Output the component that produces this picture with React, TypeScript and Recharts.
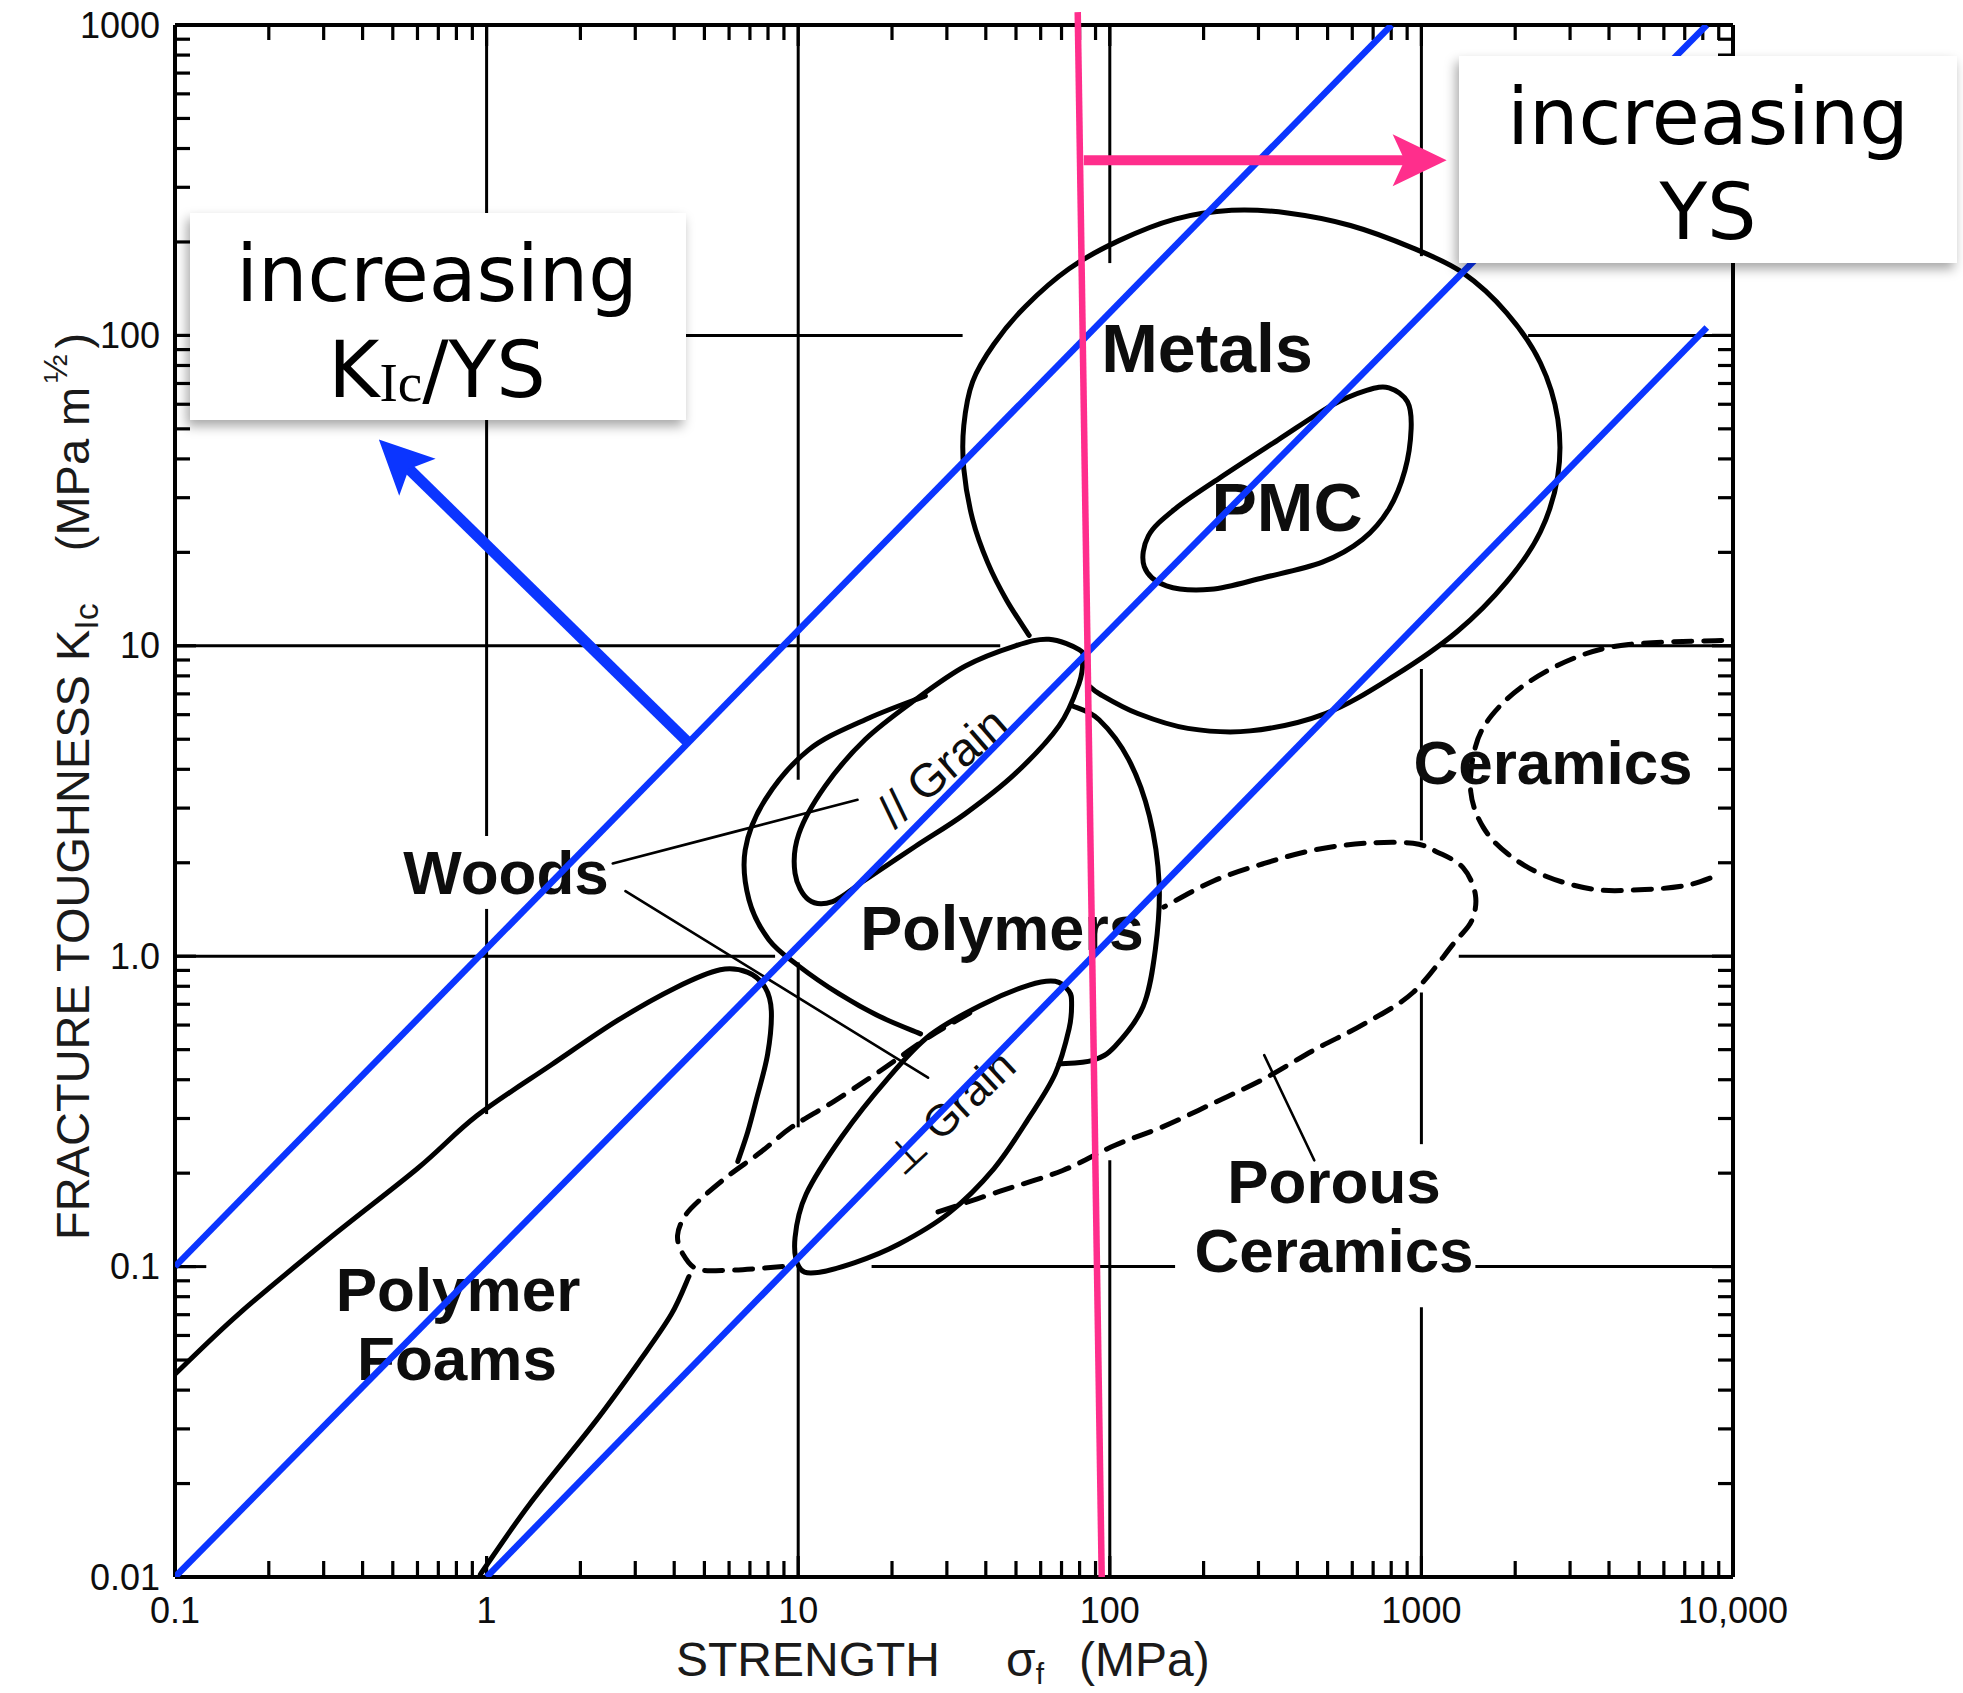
import React from 'react';
import { ComposedChart, Line, XAxis, YAxis, ReferenceLine } from 'recharts';

const W = 1963;
const H = 1693;

// ---------- axis values ----------
const xDecades = [0.1, 1, 10, 100, 1000, 10000];
const xTickLabels = ['0.1', '1', '10', '100', '1000', '10,000'];
const yDecades = [0.01, 0.1, 1, 10, 100, 1000];
const yTickLabels = ['0.01', '0.1', '1.0', '10', '100', '1000'];
const minorSteps = [2, 3, 4, 5, 6, 7, 8, 9];

// ---------- material envelopes: [strength MPa, toughness MPa m^1/2] ----------
const metals: [number, number][] = [
  [55.1, 10.8], [46.7, 14.0], [40.6, 18.5], [36.3, 25.5], [34.0, 37.1], [34.0, 51.3], [36.3, 71.0],
  [42.5, 93.8], [53.6, 124], [74.0, 164], [107, 202], [162, 237], [246, 253], [372, 248], [592, 226],
  [940, 191], [1360, 159], [1880, 118], [2410, 81.5], [2740, 53.7], [2740, 35.3], [2410, 23.3],
  [1880, 16.1], [1300, 11.1], [818, 8.0], [492, 6.05], [282, 5.32], [178, 5.42], [123, 6.05],
  [93.3, 6.97], [84.9, 7.5],
];
const pmc: [number, number][] = [
  [787, 67.8], [902, 61.1], [927, 50.1], [885, 36.7], [787, 27.6], [647, 22.0], [481, 18.6],
  [313, 16.6], [211, 15.2], [152, 15.6], [129, 18.0], [133, 22.6], [162, 27.6], [225, 34.7],
  [346, 46.0], [514, 59.4], [667, 66.5],
];
const woodsParallel: [number, number][] = [
  [79.7, 9.72], [63.8, 10.5], [49.8, 10.0], [34.4, 8.61], [23.8, 6.71], [16.4, 4.99], [12.2, 3.53],
  [10.05, 2.48], [9.77, 1.85], [10.8, 1.52], [12.9, 1.50], [16.4, 1.76], [23.8, 2.26], [34.4, 2.88],
  [49.8, 3.88], [68.7, 5.52], [79.7, 7.57], [81.9, 9.03],
];
const polymersLeft: [number, number][] = [
  [25.6, 6.90], [16.4, 5.78], [10.8, 4.62], [7.83, 3.19], [6.76, 2.20], [6.95, 1.52], [8.05, 1.13],
  [10.05, 0.929], [13.5, 0.757], [18.2, 0.640], [24.7, 0.562],
];
const polymersRight: [number, number][] = [
  [76.0, 6.40], [92.4, 5.78], [115, 4.30], [134, 2.83], [144, 1.71], [140, 1.05], [128, 0.690],
  [104, 0.513], [88.1, 0.462], [68.7, 0.450],
];
const woodsPerp: [number, number][] = [
  [74.0, 0.771], [66.8, 0.830], [55.1, 0.807], [39.5, 0.703], [26.5, 0.557], [19.2, 0.399],
  [13.8, 0.262], [10.6, 0.171], [9.77, 0.124], [10.05, 0.100], [11.3, 0.0955], [15.2, 0.103],
  [21.0, 0.118], [30.5, 0.149], [42.5, 0.207], [55.1, 0.302], [66.8, 0.418], [74.0, 0.583], [75.4, 0.703],
];
const foamUpper: [number, number][] = [
  [0.1, 0.045], [0.160, 0.0703], [0.309, 0.122], [0.600, 0.207], [0.930, 0.306], [1.61, 0.446],
  [2.64, 0.622], [4.06, 0.793], [5.62, 0.904], [6.89, 0.887], [7.83, 0.793], [8.20, 0.665],
  [7.98, 0.484], [7.35, 0.347], [6.89, 0.272], [6.40, 0.218],
];
const foamLower: [number, number][] = [
  [0.955, 0.0102], [1.37, 0.0171], [2.23, 0.0316], [3.11, 0.0499], [3.92, 0.0703], [4.46, 0.0929],
];
const dashedLoop: [number, number][] = [
  [8.91, 0.100], [6.00, 0.0973], [4.75, 0.0982], [4.26, 0.110], [4.10, 0.126], [4.34, 0.146],
  [4.93, 0.167], [6.00, 0.197], [7.55, 0.233], [9.51, 0.281], [12.8, 0.337], [18.0, 0.422],
  [26.5, 0.552], [37.0, 0.671],
];
const porousCeramics: [number, number][] = [
  [28.1, 0.150], [44.5, 0.175], [70.6, 0.204], [104, 0.246], [149, 0.283], [216, 0.337], [313, 0.403],
  [453, 0.499], [655, 0.605], [940, 0.764], [1270, 1.10], [1450, 1.30], [1490, 1.58], [1360, 1.93],
  [1130, 2.16], [940, 2.31], [655, 2.31], [453, 2.20], [313, 1.99], [216, 1.75], [149, 1.44],
];
const ceramics: [number, number][] = [
  [9200, 10.4], [4620, 10.1], [3100, 9.14], [2150, 7.50], [1680, 5.96], [1490, 4.72], [1440, 3.39],
  [1580, 2.60], [1900, 2.13], [2510, 1.81], [3610, 1.64], [5210, 1.64], [7080, 1.69], [8770, 1.81],
];
const leaderWoodsParallel: [number, number][] = [[2.54, 1.99], [15.5, 3.19]];
const leaderWoodsPerp: [number, number][] = [[2.79, 1.62], [26.1, 0.406]];
const leaderPorous: [number, number][] = [[313, 0.480], [453, 0.220]];

// ---------- grid (decade lines, interrupted where the original chart is) ----------
const gridK: [number, number, number][] = [ // K, from sigma, to sigma
  [100, 0.1, 33.7], [100, 2200, 10000],
  [10, 0.1, 44.5], [10, 1130, 10000],
  [1, 0.1, 8.43], [1, 1318, 10000],
  [0.1, 0.1, 0.126], [0.1, 17.2, 162], [0.1, 1490, 10000],
];
const gridS: [number, number, number][] = [ // sigma, from K, to K
  [1, 1000, 2.44], [1, 1.42, 0.31],
  [10, 1000, 3.70], [10, 0.955, 0.281], [10, 0.1, 0.01],
  [100, 1000, 171], [100, 0.22, 0.01],
  [1000, 1000, 180], [1000, 8.42, 2.36], [1000, 0.764, 0.248], [1000, 0.074, 0.01],
];

// ---------- overlays ----------
const ratioLines: [number, number][][] = [
  [[0.1, 0.1], [802, 1000]],
  [[0.1, 0.01], [8240, 1000]],
  [[1, 0.01], [8240, 106]],
];
const ratioArrow: [number, number][] = [[4.38, 4.94], [0.451, 46.2]];
const ysLine: [number, number][] = [[78.9, 1100], [94.2, 0.01]];
const ysArrow: [number, number][] = [[82.5, 367], [1205, 367]];

// ---------- styles / layout ----------
const X_DOMAIN: [number, number] = [0.1, 10000];
const Y_DOMAIN: [number, number] = [0.01, 1000];
const BLUE = '#0b35ff';
const PINK = '#ff2e8c';
const INK = '#0d0d0d';
const FONT = '"Liberation Sans", Arial, Helvetica, "DejaVu Sans", sans-serif';
const AXIS_LINE = { stroke: '#000', strokeWidth: 4 };

const regionLabels = [
  { text: 'Metals', x: 1207, y: 372, size: 68 },
  { text: 'PMC', x: 1287, y: 531, size: 68 },
  { text: 'Polymers', x: 1002, y: 950, size: 63 },
  { text: 'Woods', x: 506, y: 894, size: 62 },
  { text: 'Ceramics', x: 1553, y: 784, size: 62 },
  { text: 'Polymer', x: 458, y: 1311, size: 62 },
  { text: 'Foams', x: 457, y: 1380, size: 62 },
  { text: 'Porous', x: 1334, y: 1203, size: 62 },
  { text: 'Ceramics', x: 1334, y: 1272, size: 62 },
];
const grainLabels = [
  { text: '// Grain', x: 942, y: 767, angle: -41, size: 47 },
  { text: '\u22A5 Grain', x: 950, y: 1112, angle: -43, size: 44 },
];

const toXY = (pts: [number, number][]) => pts.map(([x, y]) => ({ x, y }));

const xTicks = [...xDecades, ...xDecades.slice(0, -1).flatMap((d) => minorSteps.map((m) => d * m))].sort((a, b) => a - b);
const yTicks = [...yDecades, ...yDecades.slice(0, -1).flatMap((d) => minorSteps.map((m) => d * m))].sort((a, b) => a - b);

const decadeIndex = (list: number[], v: number) => list.findIndex((d) => Math.abs(v / d - 1) < 1e-6);

// Catmull-Rom curve factory (d3 curve interface) so that outlines pass through the traced points
function catmull(closed: boolean) {
  return (context: any) => {
    let pts: number[][] = [];
    return {
      areaStart() {},
      areaEnd() {},
      lineStart() { pts = []; },
      point(x: number, y: number) { pts.push([+x, +y]); },
      lineEnd() {
        const n = pts.length;
        if (!n) return;
        context.moveTo(pts[0][0], pts[0][1]);
        if (n < 2) return;
        const get = (i: number) => (closed ? pts[((i % n) + n) % n] : pts[Math.max(0, Math.min(n - 1, i))]);
        const segs = closed ? n : n - 1;
        for (let i = 0; i < segs; i++) {
          const p0 = get(i - 1), p1 = get(i), p2 = get(i + 1), p3 = get(i + 2);
          context.bezierCurveTo(
            p1[0] + (p2[0] - p0[0]) / 6, p1[1] + (p2[1] - p0[1]) / 6,
            p2[0] - (p3[0] - p1[0]) / 6, p2[1] - (p3[1] - p1[1]) / 6,
            p2[0], p2[1],
          );
        }
        if (closed) context.closePath();
      },
    };
  };
}
const closedCurve = catmull(true);
const openCurve = catmull(false);

// ---------- tick renderers ----------
const tickText = { fontFamily: FONT, fontSize: 36, fill: INK };

const BottomTick = (p: any) => {
  const v = p.payload.value;
  const i = decadeIndex(xDecades, v);
  return (
    <g>
      <line x1={p.x} x2={p.x} y1={p.y} y2={p.y - (i >= 0 ? 21 : 16)} stroke="#000" strokeWidth={3.2} />
      {i >= 0 && (
        <text x={p.x} y={p.y + 33} textAnchor="middle" dominantBaseline="central" {...tickText}>{xTickLabels[i]}</text>
      )}
    </g>
  );
};
const TopTick = (p: any) => {
  const i = decadeIndex(xDecades, p.payload.value);
  return <line x1={p.x} x2={p.x} y1={p.y} y2={p.y + (i >= 0 ? 21 : 15)} stroke="#000" strokeWidth={3.2} />;
};
const LeftTick = (p: any) => {
  const v = p.payload.value;
  const i = decadeIndex(yDecades, v);
  return (
    <g>
      <line x1={p.x} x2={p.x + (i >= 0 ? 21 : 15)} y1={p.y} y2={p.y} stroke="#000" strokeWidth={3.2} />
      {i >= 0 && (
        <text x={p.x - 15} y={p.y} textAnchor="end" dominantBaseline="central" {...tickText}>{yTickLabels[i]}</text>
      )}
    </g>
  );
};
const RightTick = (p: any) => {
  const i = decadeIndex(yDecades, p.payload.value);
  return <line x1={p.x} x2={p.x - (i >= 0 ? 21 : 15)} y1={p.y} y2={p.y} stroke="#000" strokeWidth={3.2} />;
};

// arrow drawn along a reference segment (end point = arrow tip)
const makeArrow = (color: string, shaft: number) => (p: any) => {
  const { x1, y1, x2, y2 } = p;
  if (![x1, y1, x2, y2].every((v: any) => Number.isFinite(v))) return <g />;
  const dx = x2 - x1, dy = y2 - y1;
  const L = Math.hypot(dx, dy) || 1;
  const ux = dx / L, uy = dy / L, nx = -uy, ny = ux;
  const HEAD = 54, HALF = 26, NOTCH = 42;
  const bx = x2 - ux * HEAD, by = y2 - uy * HEAD;
  const mx = x2 - ux * NOTCH, my = y2 - uy * NOTCH;
  return (
    <g>
      <line x1={x1} y1={y1} x2={mx + ux * 2} y2={my + uy * 2} stroke={color} strokeWidth={shaft} />
      <polygon points={`${x2},${y2} ${bx + nx * HALF},${by + ny * HALF} ${mx},${my} ${bx - nx * HALF},${by - ny * HALF}`} fill={color} />
    </g>
  );
};

const layer: React.CSSProperties = { position: 'absolute', left: 0, top: 0, width: W, height: H };

const hiddenAxes = [
  <XAxis key="x" xAxisId="b" type="number" dataKey="x" scale="log" domain={X_DOMAIN} allowDataOverflow hide />,
  <YAxis key="y" yAxisId="l" type="number" dataKey="y" scale="log" domain={Y_DOMAIN} allowDataOverflow hide />,
];
const overlayMargin = { top: 25, right: 230, bottom: 116, left: 175 };

const outline = (key: string, pts: [number, number][], closed: boolean, dashed = false, width = 5) => (
  <Line
    key={key}
    xAxisId="b"
    yAxisId="l"
    data={toXY(pts)}
    dataKey="y"
    type={closed ? (closedCurve as any) : (openCurve as any)}
    stroke="#000"
    strokeWidth={width}
    strokeLinecap="round"
    strokeDasharray={dashed ? '18 12' : undefined}
    dot={false}
    activeDot={false}
    isAnimationActive={false}
    legendType="none"
  />
);

export default function App() {
  return (
    <div style={{ ...layer, background: '#fff', overflow: 'hidden' }}>
      {/* base chart: frame, ticks, grid and material envelopes */}
      <div style={layer}>
        <ComposedChart width={W} height={H} margin={{ top: 24, right: 229, bottom: 56, left: 75 }}>
          <XAxis xAxisId="b" orientation="bottom" type="number" dataKey="x" scale="log" domain={X_DOMAIN} allowDataOverflow
            ticks={xTicks} interval={0} tickSize={0} tickMargin={0} tickLine={false} axisLine={AXIS_LINE} tick={BottomTick} height={60} />
          <XAxis xAxisId="t" orientation="top" type="number" dataKey="x" scale="log" domain={X_DOMAIN} allowDataOverflow
            ticks={xTicks} interval={0} tickSize={0} tickMargin={0} tickLine={false} axisLine={AXIS_LINE} tick={TopTick} height={1} />
          <YAxis yAxisId="l" orientation="left" type="number" dataKey="y" scale="log" domain={Y_DOMAIN} allowDataOverflow
            ticks={yTicks} interval={0} tickSize={0} tickMargin={0} tickLine={false} axisLine={AXIS_LINE} tick={LeftTick} width={100} />
          <YAxis yAxisId="r" orientation="right" type="number" dataKey="y" scale="log" domain={Y_DOMAIN} allowDataOverflow
            ticks={yTicks} interval={0} tickSize={0} tickMargin={0} tickLine={false} axisLine={AXIS_LINE} tick={RightTick} width={1} />
          {gridK.map(([k, a, b], i) => (
            <ReferenceLine key={`gk${i}`} xAxisId="b" yAxisId="l" segment={[{ x: a, y: k }, { x: b, y: k }]} stroke="#000" strokeWidth={3} />
          ))}
          {gridS.map(([s, a, b], i) => (
            <ReferenceLine key={`gs${i}`} xAxisId="b" yAxisId="l" segment={[{ x: s, y: a }, { x: s, y: b }]} stroke="#000" strokeWidth={3} />
          ))}
          {outline('metals', metals, false)}
          {outline('pmc', pmc, true)}
          {outline('woodsParallel', woodsParallel, true)}
          {outline('polymersLeft', polymersLeft, false)}
          {outline('polymersRight', polymersRight, false)}
          {outline('woodsPerp', woodsPerp, true)}
          {outline('foamUpper', foamUpper, false)}
          {outline('foamLower', foamLower, false)}
          {outline('dashedLoop', dashedLoop, false, true)}
          {outline('porous', porousCeramics, false, true)}
          {outline('ceramics', ceramics, false, true)}
          {outline('leader1', leaderWoodsParallel, false, false, 2.6)}
          {outline('leader2', leaderWoodsPerp, false, false, 2.6)}
          {outline('leader3', leaderPorous, false, false, 2.6)}
        </ComposedChart>
      </div>

      {/* chart text: region labels and axis titles */}
      <svg style={layer} width={W} height={H}>
        {regionLabels.map((l, i) => (
          <text key={i} x={l.x} y={l.y} textAnchor="middle" fontFamily={FONT} fontWeight="bold" fontSize={l.size} fill={INK}>{l.text}</text>
        ))}
        {grainLabels.map((l, i) => (
          <text key={`g${i}`} x={l.x} y={l.y} textAnchor="middle" dominantBaseline="central" fontFamily={FONT} fontSize={l.size} fill={INK}
            transform={`rotate(${l.angle} ${l.x} ${l.y})`}>{l.text}</text>
        ))}
        <text transform="translate(89 1240) rotate(-90)" fontFamily={FONT} fontSize={47} fill="#1a1a1a">
          <tspan>FRACTURE TOUGHNESS</tspan>
          <tspan dx={14}>K</tspan>
          <tspan fontSize={34} dy={9}>Ic</tspan>
          <tspan dy={-9} dx={52}>(MPa m</tspan>
          <tspan fontSize={34} dy={-22} dx={4}>½</tspan>
          <tspan dy={22} dx={6}>)</tspan>
        </text>
        <text y={1676} fontFamily={FONT} fontSize={48} fill="#1a1a1a">
          <tspan x={676}>STRENGTH</tspan>
          <tspan x={1006}>σ</tspan>
          <tspan fontSize={30} dy={8}>f</tspan>
          <tspan x={1079} dy={-8}>(MPa)</tspan>
        </text>
      </svg>

      {/* constant Kic/YS lines and arrow */}
      <div style={layer}>
        <ComposedChart width={W} height={H} margin={overlayMargin}>
          {hiddenAxes}
          {ratioLines.map((pts, i) => (
            <Line key={`r${i}`} xAxisId="b" yAxisId="l" data={toXY(pts)} dataKey="y" type="linear" stroke={BLUE} strokeWidth={6.5}
              dot={false} activeDot={false} isAnimationActive={false} legendType="none" />
          ))}
          <ReferenceLine xAxisId="b" yAxisId="l" ifOverflow="visible"
            segment={[{ x: ratioArrow[0][0], y: ratioArrow[0][1] }, { x: ratioArrow[1][0], y: ratioArrow[1][1] }]}
            shape={makeArrow(BLUE, 11)} />
        </ComposedChart>
      </div>

      {/* yield strength line and arrow */}
      <div style={layer}>
        <ComposedChart width={W} height={H} margin={overlayMargin}>
          {hiddenAxes}
          <ReferenceLine xAxisId="b" yAxisId="l" ifOverflow="visible"
            segment={[{ x: ysLine[0][0], y: ysLine[0][1] }, { x: ysLine[1][0], y: ysLine[1][1] }]}
            stroke={PINK} strokeWidth={6.5} />
          <ReferenceLine xAxisId="b" yAxisId="l" ifOverflow="visible"
            segment={[{ x: ysArrow[0][0], y: ysArrow[0][1] }, { x: ysArrow[1][0], y: ysArrow[1][1] }]}
            shape={makeArrow(PINK, 10)} />
        </ComposedChart>
      </div>

      {/* callout boxes */}
      <svg style={layer} width={W} height={H}>
        <defs>
          <filter id="boxShadow" x="-10%" y="-15%" width="125%" height="140%">
            <feDropShadow dx={-3} dy={6} stdDeviation={6} floodColor="#000" floodOpacity={0.35} />
          </filter>
        </defs>
        <rect x={190} y={213} width={496} height={207} fill="#fff" filter="url(#boxShadow)" />
        <text x={437} y={301} textAnchor="middle" fontFamily='"DejaVu Sans", Verdana, sans-serif' fontSize={78} fill="#000">increasing</text>
        <text x={437} y={397} textAnchor="middle" fontFamily='"DejaVu Sans", Verdana, sans-serif' fontSize={78} fill="#000">
          K<tspan fontFamily='"Liberation Serif", "Times New Roman", serif' fontSize={55} dy={4}>Ic</tspan><tspan dy={-4}>/YS</tspan>
        </text>
        <rect x={1459} y={56} width={498} height={207} fill="#fff" filter="url(#boxShadow)" />
        <text x={1708} y={144} textAnchor="middle" fontFamily='"DejaVu Sans", Verdana, sans-serif' fontSize={78} fill="#000">increasing</text>
        <text x={1708} y={239} textAnchor="middle" fontFamily='"DejaVu Sans", Verdana, sans-serif' fontSize={78} fill="#000">YS</text>
      </svg>
    </div>
  );
}
